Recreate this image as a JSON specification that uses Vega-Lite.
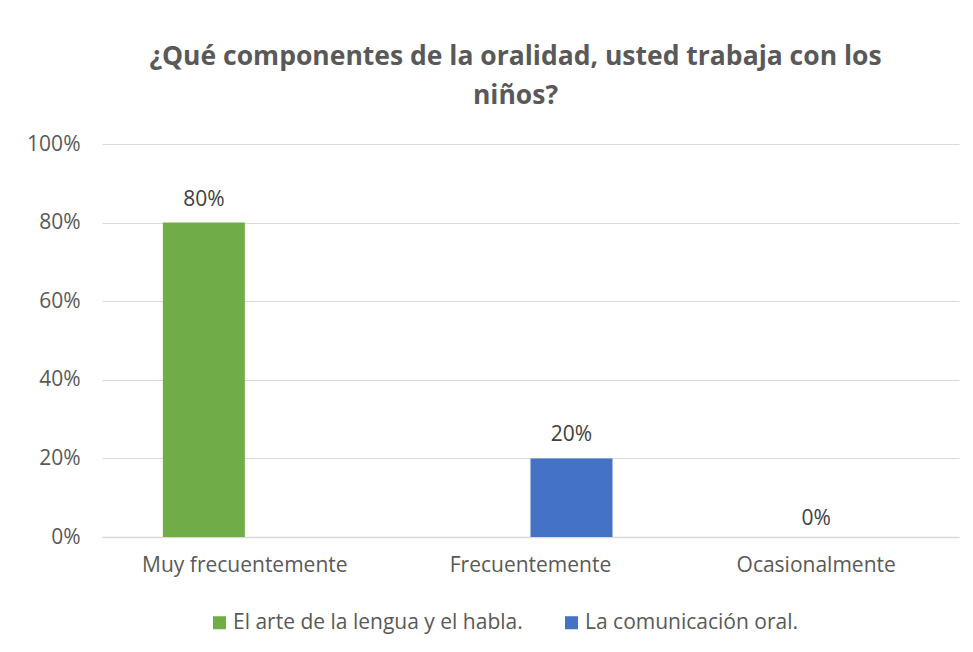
{
  "$schema": "https://vega.github.io/schema/vega-lite/v6.json",
  "width": 857,
  "height": 393,
  "autosize": {"type": "none"},
  "padding": {"left": 102, "top": 144, "right": 14, "bottom": 115},
  "background": "#ffffff",
  "config": {
    "view": {"stroke": null},
    "font": "Open Sans"
  },
  "title": {
    "text": ["¿Qué componentes de la oralidad, usted trabaja con los", "niños?"],
    "font": "Open Sans",
    "fontSize": 26.5,
    "fontWeight": "bold",
    "color": "#595959",
    "lineHeight": 39,
    "anchor": "middle",
    "frame": "group",
    "dx": -15,
    "offset": 24
  },
  "data": {
    "values": [
      {"categoria": "Muy frecuentemente", "serie": "El arte de la lengua y el habla.", "valor": 0.8},
      {"categoria": "Frecuentemente", "serie": "La comunicación oral.", "valor": 0.2},
      {"categoria": "Ocasionalmente", "serie": "La comunicación oral.", "valor": 0}
    ]
  },
  "encoding": {
    "x": {
      "field": "categoria",
      "type": "nominal",
      "sort": ["Muy frecuentemente", "Frecuentemente", "Ocasionalmente"],
      "scale": {"paddingInner": 0.426, "paddingOuter": 0.213},
      "axis": {
        "title": null,
        "labelAngle": 0,
        "labelFontSize": 21,
        "labelColor": "#595959",
        "labelPadding": 17,
        "labelLimit": 0,
        "ticks": false,
        "domainColor": "#D9D9D9",
        "domainWidth": 1.5
      }
    }
  },
  "layer": [
    {
      "mark": {"type": "bar"},
      "encoding": {
        "xOffset": {"field": "serie", "type": "nominal", "scale": {"domain": ["El arte de la lengua y el habla.", "La comunicación oral."], "paddingInner": 0, "paddingOuter": 0}},
        "y": {
          "field": "valor",
          "type": "quantitative",
          "scale": {"domain": [0, 1]},
          "axis": {
            "title": null,
            "values": [0, 0.2, 0.4, 0.6, 0.8, 1],
            "format": ".0%",
            "labelFontSize": 21,
            "labelColor": "#595959",
            "labelPadding": 22,
            "ticks": false,
            "domain": false,
            "gridColor": "#D9D9D9",
            "gridWidth": 1.2
          }
        },
        "color": {
          "field": "serie",
          "type": "nominal",
          "scale": {"domain": ["El arte de la lengua y el habla.", "La comunicación oral."], "range": ["#70AD47", "#4472C4"]},
          "legend": {
            "title": null,
            "orient": "none",
            "legendX": 107,
            "legendY": 468,
            "direction": "horizontal",
            "symbolType": "square",
            "symbolSize": 170,
            "symbolStrokeWidth": 0,
            "labelFontSize": 21,
            "labelColor": "#595959",
            "labelLimit": 0,
            "labelOffset": 3,
            "columnPadding": 38
          }
        }
      }
    },
    {
      "transform": [{"filter": "datum.valor > 0"}],
      "mark": {"type": "text", "baseline": "bottom", "dy": -13, "fontSize": 21, "color": "#404040"},
      "encoding": {
        "xOffset": {"field": "serie", "type": "nominal", "scale": {"domain": ["El arte de la lengua y el habla.", "La comunicación oral."], "paddingInner": 0, "paddingOuter": 0}},
        "y": {"field": "valor", "type": "quantitative"},
        "text": {"field": "valor", "type": "quantitative", "format": ".0%"}
      }
    },
    {
      "transform": [{"filter": "datum.valor == 0"}],
      "mark": {"type": "text", "baseline": "bottom", "dy": -8, "fontSize": 21, "color": "#404040"},
      "encoding": {
        "y": {"field": "valor", "type": "quantitative"},
        "text": {"field": "valor", "type": "quantitative", "format": ".0%"}
      }
    }
  ]
}
